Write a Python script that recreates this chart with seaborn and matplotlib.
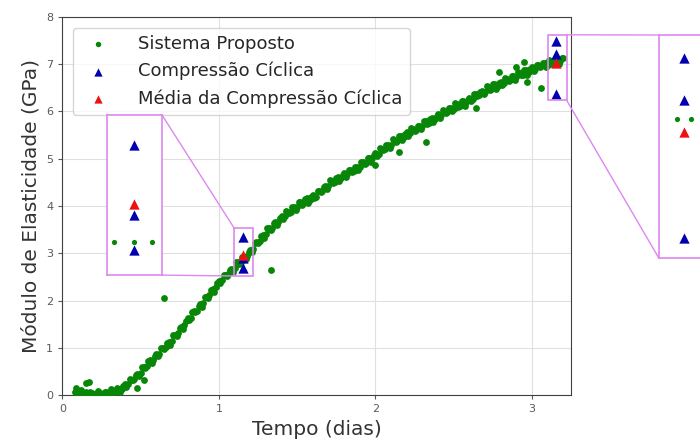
import pandas as pd
import matplotlib
matplotlib.use("Agg")
import matplotlib.pyplot as plt
import seaborn as sns
from matplotlib.patches import Rectangle, ConnectionPatch

# Sistema proposto (tempo em dias, modulo em GPa) - primeira fileira de leituras
tempo = [
    0.08, 0.10, 0.12, 0.14, 0.16, 0.18, 0.20, 0.22, 0.24, 0.26,
    0.28, 0.30, 0.32, 0.34, 0.36, 0.38, 0.40, 0.42, 0.44, 0.46,
    0.48, 0.50, 0.52, 0.54, 0.56, 0.58, 0.60, 0.62, 0.64, 0.66,
    0.68, 0.70, 0.72, 0.74, 0.76, 0.78, 0.80, 0.82, 0.84, 0.86,
    0.88, 0.90, 0.92, 0.94, 0.96, 0.98, 1.00, 1.02, 1.04, 1.06,
    1.08, 1.10, 1.12, 1.14, 1.16, 1.18, 1.20, 1.22, 1.24, 1.26,
    1.28, 1.30, 1.32, 1.34, 1.36, 1.38, 1.40, 1.42, 1.44, 1.46,
    1.48, 1.50, 1.52, 1.54, 1.56, 1.58, 1.60, 1.62, 1.64, 1.66,
    1.68, 1.70, 1.72, 1.74, 1.76, 1.78, 1.80, 1.82, 1.84, 1.86,
    1.88, 1.90, 1.92, 1.94, 1.96, 1.98, 2.00, 2.02, 2.04, 2.06,
    2.08, 2.10, 2.12, 2.14, 2.16, 2.18, 2.20, 2.22, 2.24, 2.26,
    2.28, 2.30, 2.32, 2.34, 2.36, 2.38, 2.40, 2.42, 2.44, 2.46,
    2.48, 2.50, 2.52, 2.54, 2.56, 2.58, 2.60, 2.62, 2.64, 2.66,
    2.68, 2.70, 2.72, 2.74, 2.76, 2.78, 2.80, 2.82, 2.84, 2.86,
    2.88, 2.90, 2.92, 2.94, 2.96, 2.98, 3.00, 3.02, 3.04, 3.06,
    3.08, 3.10, 3.12, 3.14, 3.16, 3.18, 3.20,
    # pontos dispersos
    0.09, 0.12, 0.15, 0.17, 0.48, 0.52, 0.65, 1.33, 2.00, 2.15,
    2.32, 2.64, 2.79, 2.90, 2.95, 2.97, 3.06,
]
modulo = [
    0.07, 0.03, 0.05, 0.02, 0.04, 0.06, 0.03, 0.02, 0.05, 0.03,
    0.06, 0.03, 0.09, 0.08, 0.14, 0.13, 0.23, 0.24, 0.33, 0.35,
    0.45, 0.47, 0.60, 0.61, 0.74, 0.75, 0.86, 0.88, 1.00, 1.01,
    1.12, 1.14, 1.28, 1.31, 1.45, 1.48, 1.63, 1.64, 1.77, 1.79,
    1.92, 1.94, 2.08, 2.11, 2.24, 2.28, 2.42, 2.44, 2.55, 2.56,
    2.67, 2.68, 2.81, 2.82, 2.93, 2.95, 3.08, 3.10, 3.23, 3.26,
    3.38, 3.41, 3.53, 3.54, 3.66, 3.67, 3.79, 3.78, 3.88, 3.88,
    3.98, 3.98, 4.08, 4.06, 4.16, 4.13, 4.23, 4.20, 4.31, 4.31,
    4.42, 4.42, 4.53, 4.51, 4.61, 4.59, 4.69, 4.67, 4.76, 4.74,
    4.83, 4.82, 4.92, 4.91, 5.02, 5.01, 5.12, 5.11, 5.21, 5.20,
    5.30, 5.29, 5.40, 5.38, 5.48, 5.46, 5.56, 5.54, 5.62, 5.61,
    5.70, 5.69, 5.79, 5.76, 5.86, 5.84, 5.94, 5.92, 6.01, 5.99,
    6.08, 6.06, 6.15, 6.12, 6.21, 6.19, 6.28, 6.26, 6.36, 6.34,
    6.43, 6.42, 6.51, 6.48, 6.57, 6.54, 6.63, 6.60, 6.69, 6.66,
    6.74, 6.72, 6.81, 6.78, 6.87, 6.84, 6.93, 6.90, 6.98, 6.95,
    7.02, 6.99, 7.07, 7.03, 7.10, 7.07, 7.13,
    0.15, 0.10, 0.25, 0.28, 0.15, 0.32, 2.05, 2.65, 4.87, 5.14,
    5.35, 6.07, 6.84, 6.94, 7.05, 6.62, 6.50,
]

# segunda fileira de leituras (intercaladas)
tempo2 = [
    0.09, 0.11, 0.13, 0.15, 0.17, 0.19, 0.21, 0.23, 0.25, 0.27,
    0.29, 0.31, 0.33, 0.35, 0.37, 0.39, 0.41, 0.43, 0.45, 0.47,
    0.49, 0.51, 0.53, 0.55, 0.57, 0.59, 0.61, 0.63, 0.65, 0.67,
    0.69, 0.71, 0.73, 0.75, 0.77, 0.79, 0.81, 0.83, 0.85, 0.87,
    0.89, 0.91, 0.93, 0.95, 0.97, 0.99, 1.01, 1.03, 1.05, 1.07,
    1.09, 1.11, 1.13, 1.15, 1.17, 1.19, 1.21, 1.23, 1.25, 1.27,
    1.29, 1.31, 1.33, 1.35, 1.37, 1.39, 1.41, 1.43, 1.45, 1.47,
    1.49, 1.51, 1.53, 1.55, 1.57, 1.59, 1.61, 1.63, 1.65, 1.67,
    1.69, 1.71, 1.73, 1.75, 1.77, 1.79, 1.81, 1.83, 1.85, 1.87,
    1.89, 1.91, 1.93, 1.95, 1.97, 1.99, 2.01, 2.03, 2.05, 2.07,
    2.09, 2.11, 2.13, 2.15, 2.17, 2.19, 2.21, 2.23, 2.25, 2.27,
    2.29, 2.31, 2.33, 2.35, 2.37, 2.39, 2.41, 2.43, 2.45, 2.47,
    2.49, 2.51, 2.53, 2.55, 2.57, 2.59, 2.61, 2.63, 2.65, 2.67,
    2.69, 2.71, 2.73, 2.75, 2.77, 2.79, 2.81, 2.83, 2.85, 2.87,
    2.89, 2.91, 2.93, 2.95, 2.97, 2.99, 3.01, 3.03, 3.05, 3.07,
    3.09, 3.11, 3.13, 3.15, 3.17, 3.19,
]
modulo2 = [
    0.01, 0.08, 0.02, 0.07, 0.00, 0.05, 0.01, 0.08, 0.03, 0.06,
    0.00, 0.13, 0.05, 0.16, 0.07, 0.20, 0.18, 0.34, 0.31, 0.43,
    0.40, 0.60, 0.57, 0.72, 0.67, 0.82, 0.82, 0.99, 0.98, 1.10,
    1.07, 1.27, 1.26, 1.43, 1.39, 1.57, 1.58, 1.76, 1.76, 1.89,
    1.87, 2.07, 2.06, 2.22, 2.19, 2.37, 2.38, 2.55, 2.53, 2.65,
    2.61, 2.81, 2.78, 2.92, 2.87, 3.03, 3.03, 3.22, 3.22, 3.36,
    3.33, 3.53, 3.50, 3.64, 3.59, 3.74, 3.73, 3.89, 3.86, 3.97,
    3.92, 4.09, 4.03, 4.15, 4.07, 4.19, 4.16, 4.32, 4.29, 4.40,
    4.36, 4.54, 4.48, 4.60, 4.52, 4.65, 4.62, 4.77, 4.72, 4.82,
    4.76, 4.93, 4.88, 5.01, 4.94, 5.08, 5.06, 5.22, 5.18, 5.29,
    5.23, 5.41, 5.35, 5.47, 5.39, 5.52, 5.49, 5.64, 5.59, 5.69,
    5.63, 5.80, 5.74, 5.85, 5.77, 5.90, 5.87, 6.02, 5.97, 6.07,
    6.01, 6.17, 6.10, 6.21, 6.12, 6.25, 6.21, 6.36, 6.32, 6.42,
    6.36, 6.53, 6.46, 6.57, 6.48, 6.60, 6.56, 6.70, 6.65, 6.74,
    6.67, 6.83, 6.76, 6.87, 6.78, 6.90, 6.86, 6.99, 6.94, 7.02,
    6.94, 7.09, 7.01, 7.11, 7.01, 7.12,
]

# Compressao ciclica
ciclica_tempo = [1.157, 1.157, 1.157, 3.155, 3.155, 3.155]
ciclica_modulo = [3.34, 2.90, 2.68, 7.48, 7.22, 6.36]

# Media da compressao ciclica
media_tempo = [1.157, 3.155]
media_modulo = [2.97, 7.02]

# pontos do sistema proposto mostrados nas ampliacoes
zoom1_tempo = [1.113, 1.157, 1.197]
zoom1_modulo = [2.73, 2.73, 2.73]
zoom2_tempo = [3.14, 3.17, 3.20]
zoom2_modulo = [7.10, 7.10, 7.10]

# limites das ampliacoes (x0, x1, y0, y1)
zoom1_lim = (1.098, 1.219, 2.52, 3.53)
zoom2_lim = (3.10, 3.22, 6.24, 7.62)

sns.set_style("whitegrid", {
    "axes.edgecolor": "0.25",
    "xtick.bottom": True,
    "ytick.left": True,
    "grid.color": "0.88",
})
plt.rcParams["font.family"] = ["DejaVu Sans"]

df = pd.DataFrame({"tempo": tempo + tempo2, "modulo": modulo + modulo2})
df_cic = pd.DataFrame({"tempo": ciclica_tempo, "modulo": ciclica_modulo})
df_med = pd.DataFrame({"tempo": media_tempo, "modulo": media_modulo})

fig = plt.figure(figsize=(7, 4.43), dpi=100)
ax = fig.add_axes([0.089, 0.108, 0.727, 0.854])

green = "#078607"
blue = "#0000b0"
red = "#ee1111"
violet = "#dd88ee"


def draw_points(a, pts, ms_dot=24, ms_tri=55, legend=True):
    sns.scatterplot(data=pts, x="tempo", y="modulo", ax=a, color=green, s=ms_dot,
                    linewidth=0, label="Sistema Proposto" if legend else None, zorder=3)
    sns.scatterplot(data=df_cic, x="tempo", y="modulo", ax=a, color=blue, marker="^",
                    s=ms_tri, linewidth=0, label="Compressão Cíclica" if legend else None, zorder=4)
    sns.scatterplot(data=df_med, x="tempo", y="modulo", ax=a, color=red, marker="^",
                    s=ms_tri, linewidth=0, label="Média da Compressão Cíclica" if legend else None, zorder=5)


draw_points(ax, df)
ax.set_xlim(0, 3.25)
ax.set_ylim(0, 8)
ax.set_xticks([0, 1, 2, 3])
ax.set_yticks(range(0, 9))
ax.tick_params(labelsize=8, colors="0.35", length=3)
ax.set_xlabel("Tempo (dias)", fontsize=14.5, color="0.2")
ax.set_ylabel("Módulo de Elasticidade (GPa)", fontsize=14.5, color="0.2")
ax.legend(loc="upper left", fontsize=13, markerscale=0.8, frameon=True,
          borderaxespad=0.6, handletextpad=1.2)

insets = [
    ([0.153, 0.379, 0.0786, 0.361], zoom1_lim, zoom1_tempo, zoom1_modulo,
     [((1, 1), (zoom1_lim[0], zoom1_lim[3])), ((1, 0), (zoom1_lim[0], zoom1_lim[2]))]),
    ([0.941, 0.418, 0.0786, 0.503], zoom2_lim, zoom2_tempo, zoom2_modulo,
     [((0, 1), (zoom2_lim[1], zoom2_lim[3])), ((0, 0), (zoom2_lim[1], zoom2_lim[2]))]),
]
for pos, lim, zt, zm, conns in insets:
    axi = fig.add_axes(pos)
    axi.set_facecolor("white")
    draw_points(axi, pd.DataFrame({"tempo": zt, "modulo": zm}), ms_dot=14, legend=False)
    axi.set_xlim(lim[0], lim[1])
    axi.set_ylim(lim[2], lim[3])
    axi.set_xticks([])
    axi.set_yticks([])
    axi.set_xlabel("")
    axi.set_ylabel("")
    axi.grid(False)
    for s in axi.spines.values():
        s.set_edgecolor(violet)
        s.set_linewidth(1.2)
    ax.add_patch(Rectangle((lim[0], lim[2]), lim[1] - lim[0], lim[3] - lim[2],
                           fill=False, edgecolor=violet, lw=1.2, zorder=6))
    for xa, xb in conns:
        cp = ConnectionPatch(xyA=xa, coordsA=axi.transAxes, xyB=xb, coordsB=ax.transData,
                             color=violet, lw=1.0)
        fig.add_artist(cp)

fig.savefig("out.png", dpi=100)
